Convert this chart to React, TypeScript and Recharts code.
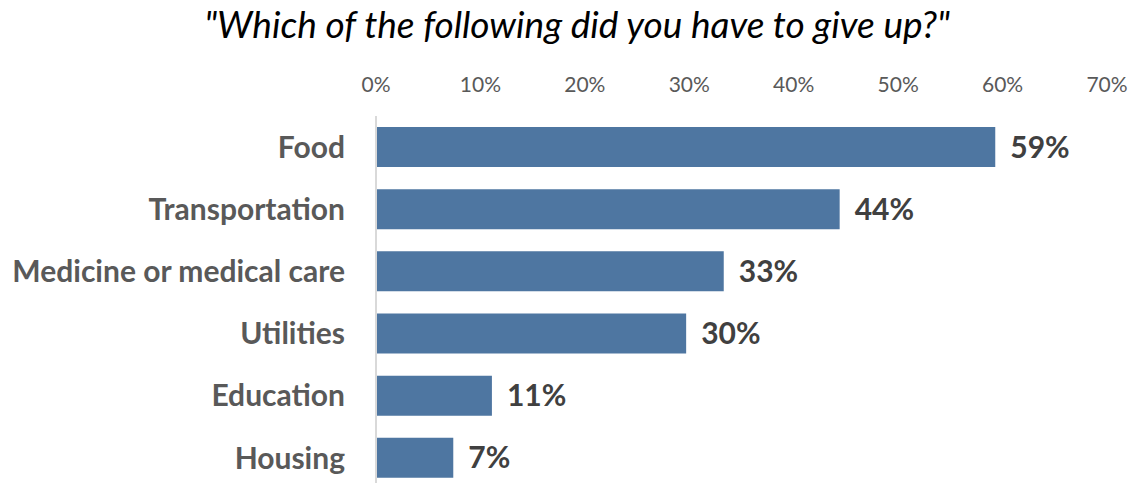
import React from 'react';
import { BarChart, Bar, XAxis, YAxis, LabelList } from 'recharts';

const categories = ['Food', 'Transportation', 'Medicine or medical care', 'Utilities', 'Education', 'Housing'];
const shares = [59.3, 44.4, 33.3, 29.7, 11.1, 7.4];
const xTicks = [0, 10, 20, 30, 40, 50, 60, 70];

const data = categories.map((name, i) => ({ name, value: shares[i] }));

const FONT = 'Lato, "Open Sans", sans-serif';

export default function App() {
  return (
    <div style={{ position: 'absolute', left: 0, top: 0, width: 1130, height: 495, fontFamily: FONT }}>
      <div
        style={{
          position: 'absolute',
          top: 2,
          left: 24,
          width: 1106,
          textAlign: 'center',
          fontStyle: 'italic',
          fontSize: 37,
          color: '#000',
          lineHeight: '44px',
          whiteSpace: 'nowrap',
        }}
      >
        "Which of the following did you have to give up?"
      </div>
      <BarChart
        width={1130}
        height={495}
        data={data}
        layout="vertical"
        margin={{ top: 86, right: 23, bottom: 6, left: 0 }}
        barSize={40}
      >
        <XAxis
          type="number"
          orientation="top"
          domain={[0, 70]}
          ticks={xTicks}
          tickFormatter={(v) => `${v}%`}
          axisLine={false}
          tickLine={false}
          tick={{ fill: '#595959', fontSize: 21, fontFamily: FONT }}
          tickMargin={18}
          height={30}
          interval={0}
        />
        <YAxis
          type="category"
          dataKey="name"
          width={376}
          axisLine={{ stroke: '#D9D9D9', strokeWidth: 2 }}
          tickLine={false}
          tick={{ fill: '#595959', fontSize: 30, fontWeight: 700, fontFamily: FONT }}
          tickMargin={25}
          interval={0}
        />
        <Bar dataKey="value" fill="#4E76A1" isAnimationActive={false}>
          <LabelList
            dataKey="value"
            position="right"
            offset={15}
            formatter={(v: number) => `${Math.round(v)}%`}
            style={{ fill: '#404040', fontSize: 30, fontWeight: 700, fontFamily: FONT }}
          />
        </Bar>
      </BarChart>
    </div>
  );
}
